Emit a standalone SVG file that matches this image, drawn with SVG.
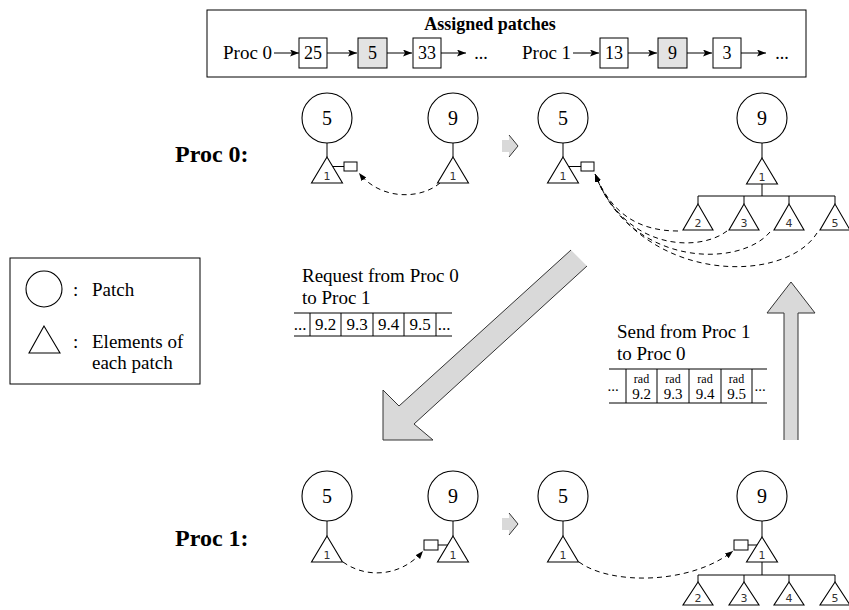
<svg xmlns="http://www.w3.org/2000/svg" width="849" height="610" viewBox="0 0 849 610">
<style>
.t{font-family:"Liberation Serif",Tinos,"Times New Roman","DejaVu Serif","Noto Serif",serif;fill:#000}
.b{font-weight:bold}
.s{font-family:"DejaVu Sans","Liberation Sans",sans-serif;font-size:11px;fill:#333}
.ln{stroke:#000;stroke-width:1;fill:none}
.c{stroke:#000;stroke-width:1.1;fill:#fff}
.tri{stroke:#000;stroke-width:1.1;fill:#fff}
.bx{stroke:#000;stroke-width:1;fill:#fff}
.gbx{stroke:#000;stroke-width:1;fill:#e3e3e3}
.dash{stroke:#000;stroke-width:1;fill:none;stroke-dasharray:5,4;marker-end:url(#ah)}
.arr{stroke:#000;stroke-width:1;fill:none;marker-end:url(#ar)}
.big{fill:#d9d9d9;stroke:none}
.bo{stroke:#333;stroke-width:1;fill:none}
</style>
<defs>
<marker id="ah" markerUnits="userSpaceOnUse" markerWidth="10" markerHeight="8" refX="8" refY="3" orient="auto">
<path d="M0,0 L8,3 L0,6 Z" fill="#000"/>
</marker>
<marker id="ar" markerUnits="userSpaceOnUse" markerWidth="10" markerHeight="8" refX="9" refY="3.5" orient="auto">
<path d="M0,0 L9,3.5 L0,7 L2,3.5 Z" fill="#000"/>
</marker>
</defs>
<rect width="849" height="610" fill="#fff"/>

<!-- Top box: assigned patches -->
<g id="assigned">
<rect x="207" y="10" width="599" height="67" class="bx"/>
<text x="490" y="30" class="t b" font-size="18" text-anchor="middle">Assigned patches</text>
<text x="223" y="59" class="t" font-size="19">Proc 0</text>
<line x1="274" y1="53" x2="299" y2="53" class="arr"/>
<rect x="299" y="38" width="28" height="30" class="bx"/>
<text x="313" y="59" class="t" font-size="18" text-anchor="middle">25</text>
<line x1="327" y1="53" x2="357" y2="53" class="arr"/>
<rect x="358" y="38" width="29" height="30" class="gbx"/>
<text x="372.5" y="59" class="t" font-size="18" text-anchor="middle">5</text>
<line x1="387" y1="53" x2="412" y2="53" class="arr"/>
<rect x="413" y="38" width="28" height="30" class="bx"/>
<text x="427" y="59" class="t" font-size="18" text-anchor="middle">33</text>
<line x1="441" y1="53" x2="466" y2="53" class="arr"/>
<text x="481" y="59" class="t" font-size="18" text-anchor="middle">...</text>
<text x="522" y="59" class="t" font-size="19">Proc 1</text>
<line x1="573" y1="53" x2="599" y2="53" class="arr"/>
<rect x="600" y="38" width="28" height="30" class="bx"/>
<text x="614" y="59" class="t" font-size="18" text-anchor="middle">13</text>
<line x1="628" y1="53" x2="657" y2="53" class="arr"/>
<rect x="658" y="38" width="29" height="30" class="gbx"/>
<text x="672.5" y="59" class="t" font-size="18" text-anchor="middle">9</text>
<line x1="687" y1="53" x2="712" y2="53" class="arr"/>
<rect x="713" y="38" width="28" height="30" class="bx"/>
<text x="727" y="59" class="t" font-size="18" text-anchor="middle">3</text>
<line x1="741" y1="53" x2="766" y2="53" class="arr"/>
<text x="782" y="59" class="t" font-size="18" text-anchor="middle">...</text>
</g>

<!-- Labels -->
<text x="175" y="162" class="t b" font-size="24">Proc 0:</text>
<text x="175" y="546" class="t b" font-size="24">Proc 1:</text>

<!-- Legend -->
<g id="legend">
<rect x="10" y="258" width="190" height="126" class="bx"/>
<circle cx="44" cy="289" r="18" class="c"/>
<text x="73" y="296" class="t" font-size="19">:</text>
<text x="92" y="296" class="t" font-size="19">Patch</text>
<polygon points="44,326 29,353 60,353" class="tri"/>
<text x="73" y="348" class="t" font-size="19">:</text>
<text x="92" y="348" class="t" font-size="19">Elements of</text>
<text x="92" y="369" class="t" font-size="19">each patch</text>
</g>

<!-- Connectors -->
<g id="connectors">
<line x1="327" y1="143" x2="327" y2="157" class="ln"/>
<line x1="453" y1="143" x2="453" y2="157" class="ln"/>
<line x1="332" y1="166.5" x2="344" y2="166.5" class="ln"/>
<path d="M440,183 C420,200 380,200 359,173" class="dash"/>
<line x1="563" y1="143" x2="563" y2="157" class="ln"/>
<line x1="568" y1="166.5" x2="581" y2="166.5" class="ln"/>
<line x1="762" y1="143" x2="762" y2="158" class="ln"/>
<line x1="762" y1="184" x2="762" y2="196" class="ln"/>
<line x1="698" y1="196" x2="835" y2="196" class="ln"/>
<line x1="698" y1="196" x2="698" y2="204" class="ln"/>
<line x1="744" y1="196" x2="744" y2="204" class="ln"/>
<line x1="789" y1="196" x2="789" y2="204" class="ln"/>
<line x1="835" y1="196" x2="835" y2="204" class="ln"/>
<path d="M678,231 C640,231 612,215 595,174" class="dash"/>
<path d="M727,231 C700,252 625,252 595,174" class="dash"/>
<path d="M770,232 C740,268 630,268 595,174" class="dash"/>
<path d="M817,233 C785,285 640,285 595,174" class="dash"/>
<line x1="327" y1="521" x2="327" y2="536" class="ln"/>
<line x1="453" y1="521" x2="453" y2="536" class="ln"/>
<line x1="438" y1="545" x2="448" y2="545" class="ln"/>
<path d="M343,562 C365,578 400,578 423,551" class="dash"/>
<line x1="563" y1="521" x2="563" y2="536" class="ln"/>
<line x1="762" y1="521" x2="762" y2="537" class="ln"/>
<line x1="748" y1="545" x2="758" y2="545" class="ln"/>
<line x1="762" y1="562" x2="762" y2="575" class="ln"/>
<line x1="698" y1="575" x2="835" y2="575" class="ln"/>
<line x1="698" y1="575" x2="698" y2="582" class="ln"/>
<line x1="744" y1="575" x2="744" y2="582" class="ln"/>
<line x1="789" y1="575" x2="789" y2="582" class="ln"/>
<line x1="835" y1="575" x2="835" y2="582" class="ln"/>
<path d="M579,562 C610,585 690,585 733,551" class="dash"/>
</g>

<!-- Proc 0 nodes -->
<g id="p0-patch5">
<circle cx="327" cy="118" r="25" class="c"/>
<text x="327" y="125" class="t" font-size="20" text-anchor="middle">5</text>
<polygon points="327,157 311.5,183 342.5,183" class="tri"/>
<text x="327" y="180" class="s" text-anchor="middle">1</text>
<rect x="344" y="162" width="13" height="9" class="bx"/>
</g>
<g id="p0-patch9">
<circle cx="453" cy="118" r="25" class="c"/>
<text x="453" y="125" class="t" font-size="20" text-anchor="middle">9</text>
<polygon points="453,157 437.5,183 468.5,183" class="tri"/>
<text x="453" y="180" class="s" text-anchor="middle">1</text>
</g>
<g id="p0-step">
<polygon points="502,140 509,140 509,135 518,146 509,157 509,152 502,152" fill="#d9d9d9"/>
<polyline points="509,135 518,146 509,157" class="bo"/>
</g>
<g id="p0-patch5b">
<circle cx="563" cy="118" r="25" class="c"/>
<text x="563" y="125" class="t" font-size="20" text-anchor="middle">5</text>
<polygon points="563,157 547.5,183 578.5,183" class="tri"/>
<text x="563" y="180" class="s" text-anchor="middle">1</text>
<rect x="581" y="162" width="13" height="9" class="bx"/>
</g>
<g id="p0-patch9b">
<circle cx="762" cy="118" r="25" class="c"/>
<text x="762" y="125" class="t" font-size="20" text-anchor="middle">9</text>
<polygon points="762,158 746.5,184 777.5,184" class="tri"/>
<text x="762" y="181" class="s" text-anchor="middle">1</text>
<polygon points="698,204 683,230 713,230" class="tri"/>
<text x="698" y="227" class="s" text-anchor="middle">2</text>
<polygon points="744,204 729,230 759,230" class="tri"/>
<text x="744" y="227" class="s" text-anchor="middle">3</text>
<polygon points="789,204 774,230 804,230" class="tri"/>
<text x="789" y="227" class="s" text-anchor="middle">4</text>
<polygon points="835,204 820,230 850,230" class="tri"/>
<text x="835" y="227" class="s" text-anchor="middle">5</text>
</g>

<!-- Request -->
<g id="request">
<text x="302" y="282" class="t" font-size="19">Request from Proc 0</text>
<text x="302" y="304" class="t" font-size="19">to Proc 1</text>
<line x1="294" y1="313" x2="452" y2="313" class="ln"/>
<line x1="294" y1="336" x2="452" y2="336" class="ln"/>
<line x1="310" y1="313" x2="310" y2="336" class="ln"/>
<line x1="341" y1="313" x2="341" y2="336" class="ln"/>
<line x1="373" y1="313" x2="373" y2="336" class="ln"/>
<line x1="404" y1="313" x2="404" y2="336" class="ln"/>
<line x1="436" y1="313" x2="436" y2="336" class="ln"/>
<text x="300" y="330" class="t" font-size="17" text-anchor="middle">...</text>
<text x="325.5" y="330" class="t" font-size="17" text-anchor="middle">9.2</text>
<text x="357" y="330" class="t" font-size="17" text-anchor="middle">9.3</text>
<text x="388.5" y="330" class="t" font-size="17" text-anchor="middle">9.4</text>
<text x="420" y="330" class="t" font-size="17" text-anchor="middle">9.5</text>
<text x="444" y="330" class="t" font-size="17" text-anchor="middle">...</text>
</g>

<!-- Big diagonal arrow -->
<g id="req-arrow">
<polygon points="571,250 587,266 414,424 433,440 383,440 383,390 399,406" class="big"/>
<polyline points="571,250 399,406 383,390 383,440 433,440 414,424 587,266" class="bo"/>
</g>

<!-- Send -->
<g id="send">
<text x="617" y="338" class="t" font-size="19">Send from Proc 1</text>
<text x="617" y="360" class="t" font-size="19">to Proc 0</text>
<line x1="609" y1="369" x2="767" y2="369" class="ln"/>
<line x1="609" y1="403" x2="767" y2="403" class="ln"/>
<line x1="626" y1="369" x2="626" y2="403" class="ln"/>
<line x1="657" y1="369" x2="657" y2="403" class="ln"/>
<line x1="689" y1="369" x2="689" y2="403" class="ln"/>
<line x1="721" y1="369" x2="721" y2="403" class="ln"/>
<line x1="752" y1="369" x2="752" y2="403" class="ln"/>
<text x="613" y="391" class="t" font-size="15" text-anchor="middle">...</text>
<text x="641.5" y="383" class="t" font-size="12" text-anchor="middle">rad</text>
<text x="641.5" y="399" class="t" font-size="15" text-anchor="middle">9.2</text>
<text x="673" y="383" class="t" font-size="12" text-anchor="middle">rad</text>
<text x="673" y="399" class="t" font-size="15" text-anchor="middle">9.3</text>
<text x="705" y="383" class="t" font-size="12" text-anchor="middle">rad</text>
<text x="705" y="399" class="t" font-size="15" text-anchor="middle">9.4</text>
<text x="736.5" y="383" class="t" font-size="12" text-anchor="middle">rad</text>
<text x="736.5" y="399" class="t" font-size="15" text-anchor="middle">9.5</text>
<text x="760" y="391" class="t" font-size="15" text-anchor="middle">...</text>
</g>

<!-- Big vertical arrow -->
<g id="send-arrow">
<polygon points="784,440 784,313 767,313 791,282 815,313 798,313 798,440" class="big"/>
<polyline points="784,440 784,313 767,313 791,282 815,313 798,313 798,440" class="bo"/>
</g>

<!-- Proc 1 nodes -->
<g id="p1-patch5">
<circle cx="327" cy="496" r="25" class="c"/>
<text x="327" y="503" class="t" font-size="20" text-anchor="middle">5</text>
<polygon points="327,536 311.5,562 342.5,562" class="tri"/>
<text x="327" y="559" class="s" text-anchor="middle">1</text>
</g>
<g id="p1-patch9">
<circle cx="453" cy="496" r="25" class="c"/>
<text x="453" y="503" class="t" font-size="20" text-anchor="middle">9</text>
<polygon points="453,536 437.5,562 468.5,562" class="tri"/>
<text x="453" y="559" class="s" text-anchor="middle">1</text>
<rect x="424" y="540" width="14" height="10" class="bx"/>
</g>
<g id="p1-step">
<polygon points="502,518 509,518 509,513 518,524 509,535 509,530 502,530" fill="#d9d9d9"/>
<polyline points="509,513 518,524 509,535" class="bo"/>
</g>
<g id="p1-patch5b">
<circle cx="563" cy="496" r="25" class="c"/>
<text x="563" y="503" class="t" font-size="20" text-anchor="middle">5</text>
<polygon points="563,536 547.5,562 578.5,562" class="tri"/>
<text x="563" y="559" class="s" text-anchor="middle">1</text>
</g>
<g id="p1-patch9b">
<circle cx="762" cy="496" r="25" class="c"/>
<text x="762" y="503" class="t" font-size="20" text-anchor="middle">9</text>
<polygon points="762,537 746.5,562 777.5,562" class="tri"/>
<text x="762" y="559" class="s" text-anchor="middle">1</text>
<rect x="734" y="540" width="14" height="10" class="bx"/>
<polygon points="698,582 683,605 713,605" class="tri"/>
<text x="698" y="602" class="s" text-anchor="middle">2</text>
<polygon points="744,582 729,605 759,605" class="tri"/>
<text x="744" y="602" class="s" text-anchor="middle">3</text>
<polygon points="789,582 774,605 804,605" class="tri"/>
<text x="789" y="602" class="s" text-anchor="middle">4</text>
<polygon points="835,582 820,605 850,605" class="tri"/>
<text x="835" y="602" class="s" text-anchor="middle">5</text>
</g>
</svg>
